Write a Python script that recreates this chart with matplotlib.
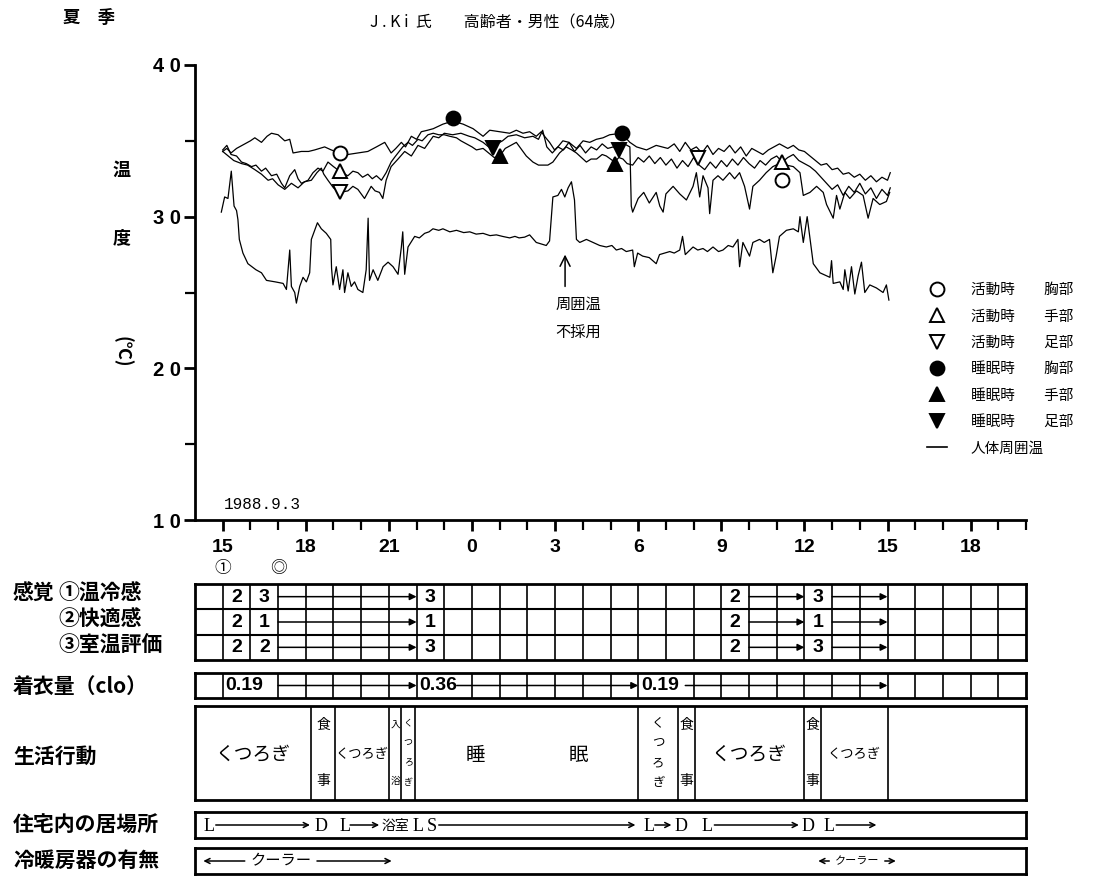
import matplotlib
matplotlib.use("Agg")
import matplotlib.pyplot as plt
from matplotlib.lines import Line2D

plt.rcParams['font.family'] = ['Noto Sans CJK JP', 'DejaVu Sans']

# 時刻は開始日15時からの通し時間 (24 = 0時, 39 = 翌日15時)
hour_ticks = [15, 18, 21, 24, 27, 30, 33, 36, 39, 42]
hour_labels = ['15', '18', '21', '0', '3', '6', '9', '12', '15', '18']

# 人体周囲温
amb_t = [14.95, 15.07, 15.19, 15.31, 15.41, 15.50, 15.55, 15.60, 15.73, 15.91,
         16.20, 16.40, 16.58, 16.90, 17.18, 17.30, 17.42, 17.48, 17.60, 17.66,
         17.78, 17.90, 18.02, 18.14, 18.20, 18.32, 18.42, 18.56, 18.74, 18.90,
         18.93, 18.98, 19.10, 19.22, 19.34, 19.40, 19.52, 19.64, 19.76, 19.88,
         20.06, 20.18, 20.25, 20.30, 20.43, 20.60, 20.79, 20.97, 21.15, 21.33,
         21.45, 21.50, 21.57, 21.69, 21.93, 22.10, 22.29, 22.45, 22.59, 22.80,
         22.95, 23.20, 23.44, 23.70, 23.92, 24.15, 24.40, 24.65, 24.88, 25.10,
         25.36, 25.55, 25.70, 25.90, 26.08, 26.32, 26.50, 26.68, 26.80, 26.92,
         27.10, 27.23, 27.35, 27.47, 27.59, 27.70, 27.77, 27.89, 28.13, 28.37,
         28.61, 28.85, 29.05, 29.21, 29.40, 29.57, 29.80, 29.86, 29.98, 30.16,
         30.40, 30.65, 30.77, 30.95, 31.14, 31.30, 31.50, 31.60, 31.70, 31.98,
         32.15, 32.34, 32.50, 32.70, 32.90, 33.06, 33.25, 33.42, 33.60, 33.66,
         33.78, 34.02, 34.14, 34.38, 34.55, 34.74, 34.86, 34.98, 35.10, 35.35,
         35.60, 35.78, 35.84, 35.96, 36.10, 36.22, 36.32, 36.56, 36.92, 36.98,
         37.04, 37.28, 37.40, 37.46, 37.58, 37.70, 37.82, 37.94, 38.06, 38.18,
         38.36, 38.60, 38.84, 38.96, 39.05]
amb_v = [30.3, 31.3, 31.2, 33.0, 30.7, 30.4, 29.8, 28.5, 27.6, 26.9,
         26.5, 26.3, 25.8, 25.7, 25.6, 25.2, 27.8, 25.4, 25.0, 24.3,
         25.4, 26.0, 25.7, 26.3, 28.5, 29.1, 29.6, 29.2, 28.9, 28.5,
         26.6, 25.5, 26.7, 25.2, 26.5, 25.0, 26.3, 25.4, 25.7, 25.2,
         25.0, 26.5, 29.9, 25.8, 26.5, 25.8, 26.7, 27.0, 26.7, 26.2,
         28.0, 29.0, 26.2, 28.0, 28.7, 28.6, 28.9, 29.0, 29.2, 29.1,
         29.2, 29.0, 29.1, 28.95, 29.0, 28.85, 28.9, 28.75, 28.8, 28.7,
         28.6, 28.7, 28.6, 28.65, 28.8, 28.3, 28.2, 28.1, 28.4, 31.3,
         31.4, 31.8, 31.3, 31.9, 32.3, 31.1, 28.5, 28.3, 28.5, 28.3,
         28.1, 28.0, 28.1, 27.8, 27.9, 27.7, 27.8, 26.7, 27.6, 27.4,
         27.3, 26.9, 27.5, 27.6, 27.7, 27.6, 27.8, 28.7, 27.5, 28.0,
         27.8, 27.9, 27.7, 28.0, 27.7, 27.8, 28.1, 28.0, 28.5, 26.7,
         28.3, 27.4, 28.3, 28.5, 28.3, 28.5, 26.3, 27.4, 28.7, 29.1,
         29.2, 29.0, 30.0, 28.3, 30.0, 28.3, 26.9, 26.3, 26.0, 27.1,
         25.6, 25.7, 25.2, 26.5, 25.1, 26.7, 24.9, 26.1, 27.0, 25.0,
         25.5, 25.3, 25.0, 25.5, 24.5]

# 胸部皮膚温
chest_t = [15.00, 15.15, 15.30, 15.50, 15.80, 16.00, 16.16, 16.40, 16.60, 16.76,
           17.00, 17.24, 17.42, 17.54, 17.84, 18.10, 18.32, 18.50, 18.68, 18.92,
           19.22, 19.52, 19.88, 20.24, 20.55, 20.85, 21.08, 21.25, 21.45, 21.60,
           21.81, 22.00, 22.17, 22.40, 22.60, 22.95, 23.30, 23.68, 24.04, 24.40,
           24.64, 25.00, 25.36, 25.60, 25.84, 26.08, 26.32, 26.50, 26.62, 26.80,
           26.98, 27.10, 27.28, 27.50, 27.77, 28.01, 28.25, 28.49, 28.73, 28.97,
           29.39, 29.70, 29.94, 30.30, 30.65, 31.07, 31.30, 31.50, 31.70, 31.90,
           32.10, 32.30, 32.50, 32.70, 32.90, 33.10, 33.30, 33.50, 33.70, 33.90,
           34.10, 34.30, 34.50, 34.70, 34.90, 35.10, 35.40, 35.60, 35.80, 36.00,
           36.20, 36.40, 36.60, 36.80, 37.00, 37.20, 37.40, 37.60, 37.80, 38.00,
           38.20, 38.40, 38.60, 38.80, 39.00, 39.10]
chest_v = [34.3, 34.5, 34.2, 34.5, 34.8, 35.0, 35.2, 34.9, 35.3, 35.5,
           35.4, 35.0, 35.1, 34.2, 34.3, 34.3, 34.4, 34.5, 34.6, 34.4,
           34.2, 34.1, 34.2, 34.3, 34.6, 34.9, 34.2, 34.5, 34.9, 34.6,
           35.3, 35.1, 35.6, 35.7, 35.8, 36.1, 36.3, 36.1, 35.8, 35.3,
           35.7, 35.6, 35.5, 35.7, 35.5, 35.6, 35.3, 35.6, 35.3, 34.9,
           34.4, 34.6, 35.0, 34.9, 34.5, 35.0, 34.9, 35.1, 35.2, 35.4,
           35.5, 34.9, 34.6, 34.4, 34.7, 34.5, 34.8, 34.3, 34.9, 34.4,
           34.6, 34.2, 34.7, 34.1, 34.5, 34.3, 34.7, 34.2, 34.6, 34.0,
           34.5, 34.3, 34.1, 34.4, 34.6, 34.8, 34.5, 34.7, 34.4, 34.3,
           34.0, 33.7, 33.4, 33.5, 33.1, 33.2, 32.8, 32.9, 32.6, 32.8,
           32.4, 32.7, 32.3, 32.6, 32.4, 32.9]

# 手部皮膚温
hand_t = [15.00, 15.15, 15.30, 15.50, 15.68, 15.85, 16.04, 16.20, 16.40, 16.55,
          16.76, 16.95, 17.12, 17.24, 17.42, 17.60, 17.72, 17.84, 18.08, 18.26,
          18.44, 18.62, 18.80, 19.00, 19.22, 19.40, 19.52, 19.70, 19.88, 20.05,
          20.24, 20.40, 20.55, 20.73, 20.90, 21.08, 21.20, 21.33, 21.50, 21.69,
          21.85, 22.05, 22.20, 22.41, 22.60, 22.80, 23.00, 23.20, 23.44, 23.60,
          23.80, 24.00, 24.16, 24.40, 24.60, 24.80, 25.00, 25.20, 25.40, 25.60,
          25.80, 25.96, 26.20, 26.40, 26.56, 26.74, 26.92, 27.16, 27.40, 27.60,
          27.77, 27.95, 28.13, 28.30, 28.50, 28.70, 28.85, 29.00, 29.15, 29.30,
          29.45, 29.60, 29.80, 30.00, 30.20, 30.40, 30.60, 30.80, 31.00, 31.20,
          31.40, 31.60, 31.80, 32.00, 32.20, 32.40, 32.60, 32.80, 33.00, 33.20,
          33.40, 33.60, 33.80, 34.00, 34.20, 34.40, 34.60, 34.80, 35.00, 35.20,
          35.40, 35.60, 35.80, 36.00, 36.20, 36.40, 36.60, 36.80, 37.00, 37.20,
          37.40, 37.60, 37.80, 38.00, 38.20, 38.40, 38.60, 38.80, 39.00, 39.10]
hand_v = [34.4, 34.7, 34.1, 34.0, 33.6, 33.5, 33.3, 33.4, 33.0, 33.2,
          32.7, 32.8, 32.2, 31.9, 32.7, 33.1, 32.5, 32.2, 32.4, 32.9,
          33.2, 33.0, 33.6, 33.3, 33.0, 32.8, 32.7, 33.0, 32.9, 32.6,
          32.8, 32.5, 32.7, 32.4, 32.9, 33.6, 33.9, 34.2, 34.6, 34.9,
          34.7, 35.1, 35.0, 35.4, 35.5, 35.4, 35.4, 35.3, 35.2, 35.0,
          34.8, 34.6, 34.4, 34.5, 34.2, 33.9, 34.0, 34.5, 34.7, 34.9,
          34.4, 34.0, 33.6, 33.4, 33.4, 33.4, 33.6, 34.2, 34.6, 34.4,
          34.2, 33.9, 33.6, 33.8, 33.8, 34.1, 34.0, 33.8, 33.6, 33.9,
          33.8, 33.5, 33.4, 33.9, 33.6, 34.0, 33.5, 33.9, 33.4, 33.8,
          33.2, 33.7, 33.3, 33.9, 33.4, 33.1, 33.6, 33.2, 33.7, 33.3,
          33.8, 33.4, 33.9, 33.5, 33.2, 33.7, 33.4, 33.8, 34.0, 33.6,
          33.9, 34.1, 33.7, 33.5, 33.3, 33.0, 32.6, 32.2, 31.8, 32.1,
          31.4, 32.0, 31.6, 32.2, 31.5, 31.9, 31.2, 31.8, 31.4, 31.9]

# 足部皮膚温
foot_t = [15.00, 15.20, 15.40, 15.68, 15.90, 16.16, 16.40, 16.64, 16.80, 17.00,
          17.24, 17.48, 17.72, 17.95, 18.20, 18.40, 18.56, 18.65, 18.80, 19.00,
          19.22, 19.52, 19.70, 19.88, 20.12, 20.36, 20.50, 20.66, 20.78, 20.90,
          21.08, 21.33, 21.57, 21.81, 22.05, 22.29, 22.60, 22.80, 23.00, 23.30,
          23.60, 23.90, 24.10, 24.40, 24.60, 24.75, 24.90, 25.10, 25.30, 25.60,
          25.90, 26.20, 26.40, 26.55, 26.70, 26.90, 27.10, 27.30, 27.50, 27.70,
          27.90, 28.10, 28.30, 28.50, 28.70, 28.90, 29.10, 29.30, 29.50, 29.70,
          29.75, 29.80, 30.00, 30.20, 30.40, 30.65, 30.78, 30.90, 31.00, 31.26,
          31.50, 31.74, 31.98, 32.10, 32.22, 32.34, 32.52, 32.58, 32.70, 32.88,
          33.06, 33.30, 33.48, 33.66, 33.84, 34.02, 34.14, 34.38, 34.62, 34.86,
          35.10, 35.35, 35.60, 35.84, 35.96, 36.20, 36.44, 36.68, 36.80, 37.04,
          37.16, 37.28, 37.46, 37.64, 37.88, 38.12, 38.30, 38.48, 38.72, 38.96,
          39.08]
foot_v = [34.3, 34.0, 33.7, 33.5, 33.4, 33.1, 32.8, 32.4, 32.5, 32.1,
          31.8, 32.2, 31.9, 32.3, 32.4, 32.9, 33.2, 32.8, 32.4, 31.9,
          31.6, 31.7, 32.0, 31.8, 31.2, 32.0, 31.7, 31.6, 31.2, 32.4,
          33.3, 33.8, 34.3, 34.0, 34.7, 34.5, 35.3, 35.2, 35.5, 35.4,
          35.5, 35.3, 35.2, 34.9, 34.6, 34.5, 34.8, 35.0, 35.3, 35.4,
          35.2, 35.3, 35.1, 35.7, 34.6, 34.2, 34.6, 34.4, 34.9, 34.3,
          34.7, 34.2, 34.6, 34.4, 34.8, 34.5, 34.6, 34.4, 34.8, 34.6,
          30.7, 30.3, 31.2, 31.6, 30.9, 31.6, 30.7, 30.3, 31.5, 32.0,
          31.5, 31.1, 32.0, 32.9, 31.3, 32.7, 31.9, 30.2, 32.4, 32.7,
          32.4, 32.9, 32.5, 32.9, 32.0, 30.5, 32.0, 32.4, 32.9, 33.3,
          33.5, 33.4, 33.3, 32.9, 31.4, 31.6, 32.0, 31.6, 30.8, 29.9,
          31.4, 30.5, 31.6, 31.2, 31.7, 31.4, 29.9, 31.2, 30.8, 31.0,
          31.6]

# 測定点 (活動時 / 睡眠時)
act_chest_t, act_chest_v = [19.25, 35.2], [34.2, 32.4]
act_hand_t, act_hand_v = [19.25, 35.2], [33.0, 33.6]
act_foot_t, act_foot_v = [19.25, 32.15], [31.6, 33.9]
slp_chest_t, slp_chest_v = [23.3, 29.4], [36.5, 35.5]
slp_hand_t, slp_hand_v = [25.0, 29.15], [34.0, 33.5]
slp_foot_t, slp_foot_v = [24.75, 29.3], [34.5, 34.4]

legend_labels = ['活動時　　胸部', '活動時　　手部', '活動時　　足部',
                 '睡眠時　　胸部', '睡眠時　　手部', '睡眠時　　足部', '人体周囲温']

# 申告表
report_marks = ['①', '◎']
report_hours = [15, 17]
sens_hours = [15, 16, 22, 33, 36]
sens_warm = ['2', '3', '3', '2', '3']
sens_comfort = ['2', '1', '1', '2', '1']
sens_room = ['2', '2', '3', '2', '3']
sens_arrows = [(17, 22), (34, 36), (37, 39)]

clo_hours = [15, 22, 30]
clo_values = ['0.19', '0.36', '0.19']
clo_arrows = [(17, 22), (23.45, 30), (31.7, 39)]

act_edges = [14, 18.2, 19.05, 21.0, 21.45, 21.95, 30.0, 31.45, 32.05, 36.0, 36.6, 39.0]
act_names = ['くつろぎ', '食事', 'くつろぎ', '入浴', 'くつろぎ', '睡眠',
             'くつろぎ', '食事', 'くつろぎ', '食事', 'くつろぎ']

loc_marks = ['L', 'D', 'L', '浴室', 'L', 'S', 'L', 'D', 'L', 'D', 'L']
loc_hours = [14.3, 18.3, 19.2, 20.75, 21.85, 22.35, 30.2, 31.3, 32.3, 35.9, 36.7]
loc_arrows = [(14.75, 18.15), (19.6, 20.65), (22.8, 29.9), (30.6, 31.2),
              (32.75, 35.8), (37.15, 38.6)]

ac_on = [(14.3, 21.1), (36.5, 39.3)]
ac_text_at = [17.1, 37.9]
ac_text_size = [11, 8]

W, H = 1095, 885
fig = plt.figure(figsize=(W / 100, H / 100), dpi=100)


def rect(x0, y0, x1, y1):
    return [x0 / W, 1 - y1 / H, (x1 - x0) / W, (y1 - y0) / H]


def ftext(x, y, s, **kw):
    kw.setdefault('va', 'center')
    fig.text(x / W, 1 - y / H, s, **kw)


X0, X1 = 195, 1026
PX_PER_H = (X1 - X0) / 30

# --- 温度グラフ ---
ax = fig.add_axes(rect(X0, 65, X1, 520))
for t, v in [(amb_t, amb_v), (chest_t, chest_v), (hand_t, hand_v), (foot_t, foot_v)]:
    ax.plot(t, v, color='black', lw=0.9)

mk = dict(ls='none', mec='black', mew=1.4, ms=10)
ax.plot(act_chest_t, act_chest_v, marker='o', mfc='white', **mk)
ax.plot(act_hand_t, act_hand_v, marker='^', mfc='white', **mk)
ax.plot(act_foot_t, act_foot_v, marker='v', mfc='white', **mk)
ax.plot(slp_chest_t, slp_chest_v, marker='o', mfc='black', **mk)
ax.plot(slp_hand_t, slp_hand_v, marker='^', mfc='black', **mk)
ax.plot(slp_foot_t, slp_foot_v, marker='v', mfc='black', **mk)

ax.set_xlim(14, 44)
ax.set_ylim(10, 40)
for s in ['top', 'right']:
    ax.spines[s].set_visible(False)
for s in ['left', 'bottom']:
    ax.spines[s].set_linewidth(2)
ax.set_xticks(hour_ticks)
ax.set_xticklabels(hour_labels, fontsize=14, fontweight='bold', family='Liberation Sans')
ax.set_xticks(range(15, 45), minor=True)
ax.set_yticks([10, 20, 30, 40])
ax.set_yticklabels(['1 0', '2 0', '3 0', '4 0'], fontsize=14.5, fontweight='bold',
                   family='Liberation Sans')
ax.set_yticks([15, 25, 35], minor=True)
ax.tick_params(which='major', direction='out', length=8, width=2)
ax.tick_params(axis='x', which='major', pad=6)
ax.tick_params(axis='y', which='major', pad=2)
ax.tick_params(which='minor', direction='out', length=7, width=1.6)

ax.text(15.05, 11.0, '1988.9.3', family='Liberation Mono', fontsize=11.5, va='center')
ax.annotate('', xy=(27.36, 27.5), xytext=(27.36, 25.4),
            arrowprops=dict(arrowstyle='->', lw=1.1, color='black',
                            shrinkA=0, shrinkB=0, mutation_scale=18))
ax.text(27.0, 24.2, '周囲温', fontsize=11, va='center')
ax.text(27.0, 22.35, '不採用', fontsize=11, va='center')

handles = [
    Line2D([], [], marker='o', mfc='white', **mk),
    Line2D([], [], marker='^', mfc='white', **mk),
    Line2D([], [], marker='v', mfc='white', **mk),
    Line2D([], [], marker='o', mfc='black', **mk),
    Line2D([], [], marker='^', mfc='black', **mk),
    Line2D([], [], marker='v', mfc='black', **mk),
    Line2D([], [], color='black', lw=1.2),
]
fig.legend(handles, legend_labels, loc='upper left',
           bbox_to_anchor=(927 / W, 1 - 283 / H), frameon=False,
           fontsize=10.5, handlelength=1.4, handletextpad=1.6,
           labelspacing=0.85, borderpad=0, borderaxespad=0)

# タイトル・軸名
ftext(63, 18, '夏　季', fontsize=12.5, fontweight='bold')
ftext(370, 23, 'J . K i  氏　　高齢者・男性（64歳）', fontsize=11.5)
ftext(122, 170, '温', fontsize=13, fontweight='bold', ha='center')
ftext(122, 238, '度', fontsize=13, fontweight='bold', ha='center')
ftext(122, 352, '(℃)', fontsize=13, fontweight='bold', ha='center', rotation=270)


# --- 記録表 ---
def table_axes(y0, y1, rows=1):
    t = fig.add_axes(rect(X0, y0, X1, y1))
    t.set_xlim(14, 44)
    t.set_ylim(rows, 0)
    t.set_xticks([])
    t.set_yticks([])
    for s in t.spines.values():
        s.set_linewidth(2)
    return t


def arrow(t, x0, x1, y, style='-|>', ms=10):
    t.annotate('', xy=(x1, y), xytext=(x0, y),
               arrowprops=dict(arrowstyle=style, color='black', lw=1.1,
                               shrinkA=0, shrinkB=0, mutation_scale=ms))


num_font = dict(family=['Liberation Sans Narrow', 'Liberation Sans'],
                fontsize=14, fontweight='bold', va='center')

ts = table_axes(584, 660, 3)
for h in range(15, 44):
    ts.axvline(h, color='black', lw=1.2)
for r in (1, 2):
    ts.axhline(r, color='black', lw=1.5)
for r, vals in enumerate([sens_warm, sens_comfort, sens_room]):
    for h, v in zip(sens_hours, vals):
        ts.text(h + 0.5, r + 0.52, v, ha='center', **num_font)
    for a, b in sens_arrows:
        arrow(ts, a, b, r + 0.5)
for h, m in zip(report_hours, report_marks):
    ts.text(h, -0.62, m, ha='center', va='center', fontsize=12, clip_on=False)

tcl = table_axes(673, 698)
for h in range(15, 44):
    if h - 1 not in clo_hours:
        tcl.axvline(h, color='black', lw=1.2)
for h, v in zip(clo_hours, clo_values):
    tcl.text(h + 0.1, 0.52, v, ha='left', **num_font)
for a, b in clo_arrows:
    arrow(tcl, a, b, 0.5)

ta = table_axes(706, 800)
for e in act_edges[1:]:
    ta.axvline(e, color='black', lw=1.2)
for a, b, name in zip(act_edges[:-1], act_edges[1:], act_names):
    mid, width = (a + b) / 2, b - a
    if name == '睡眠':
        ta.text(a + width * 0.27, 0.53, name[0], fontsize=14, ha='center', va='center')
        ta.text(a + width * 0.73, 0.53, name[1], fontsize=14, ha='center', va='center')
    elif len(name) == 2:
        fs = 10 if width > 0.55 else 7
        ta.text(mid, 0.2, name[0], fontsize=fs, ha='center', va='center')
        ta.text(mid, 0.8, name[1], fontsize=fs, ha='center', va='center')
    elif width < 1.6:
        fs = 9 if width > 1 else 6.5
        for i, ch in enumerate(name):
            ta.text(mid, 0.18 + i * 0.21, ch, fontsize=fs, ha='center', va='center')
    else:
        fs = 13.5 if width > 3 else 9.5
        ta.text(mid, 0.52, name, fontsize=fs, ha='center', va='center')

tl = table_axes(812, 838)
for h, m in zip(loc_hours, loc_marks):
    if m.isascii():
        tl.text(h, 0.55, m, ha='left', va='center', family='Liberation Serif', fontsize=13)
    else:
        tl.text(h, 0.52, m, ha='left', va='center', fontsize=10)
for a, b in loc_arrows:
    arrow(tl, a, b, 0.5, style='->', ms=9)

tc = table_axes(848, 874)
for (a, b), c, fs in zip(ac_on, ac_text_at, ac_text_size):
    tc.text(c, 0.5, 'クーラー', ha='center', va='center', fontsize=fs)
    hw = 2 * fs * 100 / 72 / PX_PER_H + 0.2
    arrow(tc, c - hw, a, 0.5, style='->', ms=9)
    arrow(tc, c + hw, b, 0.5, style='->', ms=9)

# 行見出し
lab = dict(fontsize=15, fontweight='bold')
ftext(13, 593, '感覚', **lab)
ftext(58, 593, '①温冷感', **lab)
ftext(58, 619, '②快適感', **lab)
ftext(58, 645, '③室温評価', **lab)
ftext(13, 686, '着衣量（clo）', **lab)
ftext(13, 756, '生活行動', **lab)
ftext(13, 825, '住宅内の居場所', **lab)
ftext(13, 860, '冷暖房器の有無', **lab)

fig.savefig('out.png', dpi=100)
